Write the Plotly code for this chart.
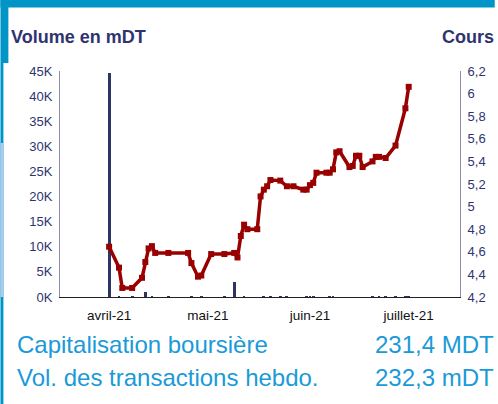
import plotly.graph_objects as go

# ---------------- data ----------------
dates = [
    "2021-04-01", "2021-04-04", "2021-04-05", "2021-04-08", "2021-04-11", "2021-04-12",
    "2021-04-13", "2021-04-14", "2021-04-15", "2021-04-19", "2021-04-25", "2021-04-26",
    "2021-04-28", "2021-04-29", "2021-05-02", "2021-05-06", "2021-05-09", "2021-05-10",
    "2021-05-11", "2021-05-12", "2021-05-13", "2021-05-16", "2021-05-17", "2021-05-18",
    "2021-05-19", "2021-05-20", "2021-05-23", "2021-05-25", "2021-05-27", "2021-05-30",
    "2021-05-31", "2021-06-01", "2021-06-02", "2021-06-03", "2021-06-06", "2021-06-07",
    "2021-06-08", "2021-06-09", "2021-06-10", "2021-06-13", "2021-06-14", "2021-06-15",
    "2021-06-16", "2021-06-17", "2021-06-20", "2021-06-21", "2021-06-22", "2021-06-24",
    "2021-06-27", "2021-06-30", "2021-07-01",
]
cours = [
    4.645, 4.46, 4.28, 4.28, 4.37, 4.51,
    4.63, 4.65, 4.59, 4.59, 4.59, 4.50,
    4.38, 4.39, 4.58, 4.58, 4.59, 4.55,
    4.74, 4.84, 4.80, 4.80, 5.09, 5.15,
    5.18, 5.235, 5.23, 5.18, 5.18, 5.15,
    5.15, 5.19, 5.21, 5.30, 5.30, 5.30,
    5.33, 5.48, 5.49, 5.35, 5.36, 5.45,
    5.45, 5.35, 5.40, 5.44, 5.44, 5.43,
    5.54, 5.87, 6.06,
]
volume = [
    44600, 200, 0, 200, 0, 900,
    0, 200, 0, 200, 0, 200,
    0, 200, 0, 200, 2900, 0,
    0, 200, 0, 0, 0, 200,
    0, 200, 200, 200, 0, 0,
    200, 200, 200, 0, 0, 200,
    200, 0, 0, 0, 0, 0,
    0, 0, 200, 0, 200, 200,
    200, 200, 200,
]

month_ticks = ["2021-04-01", "2021-05-01", "2021-06-01", "2021-07-01"]
month_labels = ["avril-21", "mai-21", "juin-21", "juillet-21"]
vol_ticks = [0, 5000, 10000, 15000, 20000, 25000, 30000, 35000, 40000, 45000]
vol_labels = ["0K", "5K", "10K", "15K", "20K", "25K", "30K", "35K", "40K", "45K"]
price_ticks = [4.2, 4.4, 4.6, 4.8, 5.0, 5.2, 5.4, 5.6, 5.8, 6.0, 6.2]
price_labels = ["4,2", "4,4", "4,6", "4,8", "5", "5,2", "5,4", "5,6", "5,8", "6", "6,2"]

# ---------------- layout geometry ----------------
W, H = 498, 404
PL, PR, PT, PB = 60, 463, 71, 297   # plot area in pixels


def px(x):
    return (x - PL) / (PR - PL)


def py(y):
    return (PB - y) / (PB - PT)


NAVY = "#2F3470"
BLUE = "#1B9AD8"
FRAME = "#0095C6"
FONT = "Liberation Sans, Arial, sans-serif"

fig = go.Figure()
fig.add_trace(go.Bar(
    x=dates, y=volume, yaxis="y",
    marker=dict(color="#2E3566", line=dict(width=0)),
    width=0.85 * 86400000, showlegend=False,
))
fig.add_trace(go.Scatter(
    x=dates, y=cours, yaxis="y2", mode="lines+markers",
    line=dict(color="#990000", width=3.5),
    marker=dict(symbol="square", size=6, color="#990000"),
    showlegend=False,
))

shapes = [
    dict(type="rect", xref="paper", yref="paper", x0=px(0), x1=px(W), y0=py(7.5), y1=py(0),
         fillcolor=FRAME, line=dict(width=0), layer="above"),
    dict(type="rect", xref="paper", yref="paper", x0=px(0), x1=px(8), y0=py(63), y1=py(0),
         fillcolor=FRAME, line=dict(width=0), layer="above"),
    dict(type="rect", xref="paper", yref="paper", x0=px(0), x1=px(3), y0=py(H), y1=py(63),
         fillcolor=FRAME, line=dict(width=0), layer="above"),
    dict(type="rect", xref="paper", yref="paper", x0=px(0), x1=px(3), y0=py(297), y1=py(143),
         fillcolor="#A9CBEF", line=dict(width=0), layer="above"),
]

ann = []


def text(s, x, y, anchor, size, color, bold=False):
    ann.append(dict(
        text=("<b>%s</b>" % s) if bold else s, x=px(x), y=py(y), xref="paper", yref="paper",
        xanchor=anchor, yanchor="middle", showarrow=False,
        font=dict(family=FONT, size=size, color=color),
    ))


text("Volume en mDT", 9, 37, "left", 18, NAVY, True)
text("Cours", 499, 37, "right", 18, NAVY, True)
text("Capitalisation boursière", 15, 344, "left", 24, BLUE)
text("231,4 MDT", 499, 344, "right", 24, BLUE)
text("Vol. des transactions hebdo.", 15, 377, "left", 24, BLUE)
text("232,3 mDT", 499, 377, "right", 24, BLUE)

fig.update_layout(
    width=W, height=H,
    margin=dict(l=PL, r=W - PR, t=PT, b=H - PB, pad=0),
    paper_bgcolor="white", plot_bgcolor="white",
    bargap=0,
    font=dict(family=FONT, size=13, color=NAVY),
    xaxis=dict(
        type="date", range=["2021-03-17 02:00", "2021-07-16 14:00"],
        tickmode="array", tickvals=month_ticks, ticktext=month_labels,
        tickfont=dict(size=13.5, color="#111111"),
        showgrid=False, zeroline=False,
        showline=True, linecolor="#222222", linewidth=1,
        ticks="", ticklabelstandoff=6,
    ),
    yaxis=dict(
        range=[0, 45000], tickmode="array", tickvals=vol_ticks, ticktext=vol_labels,
        tickfont=dict(size=13, color=NAVY),
        showgrid=False, zeroline=False,
        showline=True, linecolor="#8A8EB0", linewidth=1,
        ticks="", ticklabelstandoff=4,
    ),
    yaxis2=dict(
        range=[4.2, 6.2], overlaying="y", side="right", anchor="x",
        tickmode="array", tickvals=price_ticks, ticktext=price_labels,
        tickfont=dict(size=13, color=NAVY),
        showgrid=False, zeroline=False,
        showline=True, linecolor="#8A8EB0", linewidth=1,
        ticks="", ticklabelstandoff=4,
    ),
    shapes=shapes,
    annotations=ann,
)

fig.write_html(
    "out.html",
    config={"displayModeBar": False},
    post_script="document.body.style.margin='0';document.body.style.overflow='hidden';",
)
